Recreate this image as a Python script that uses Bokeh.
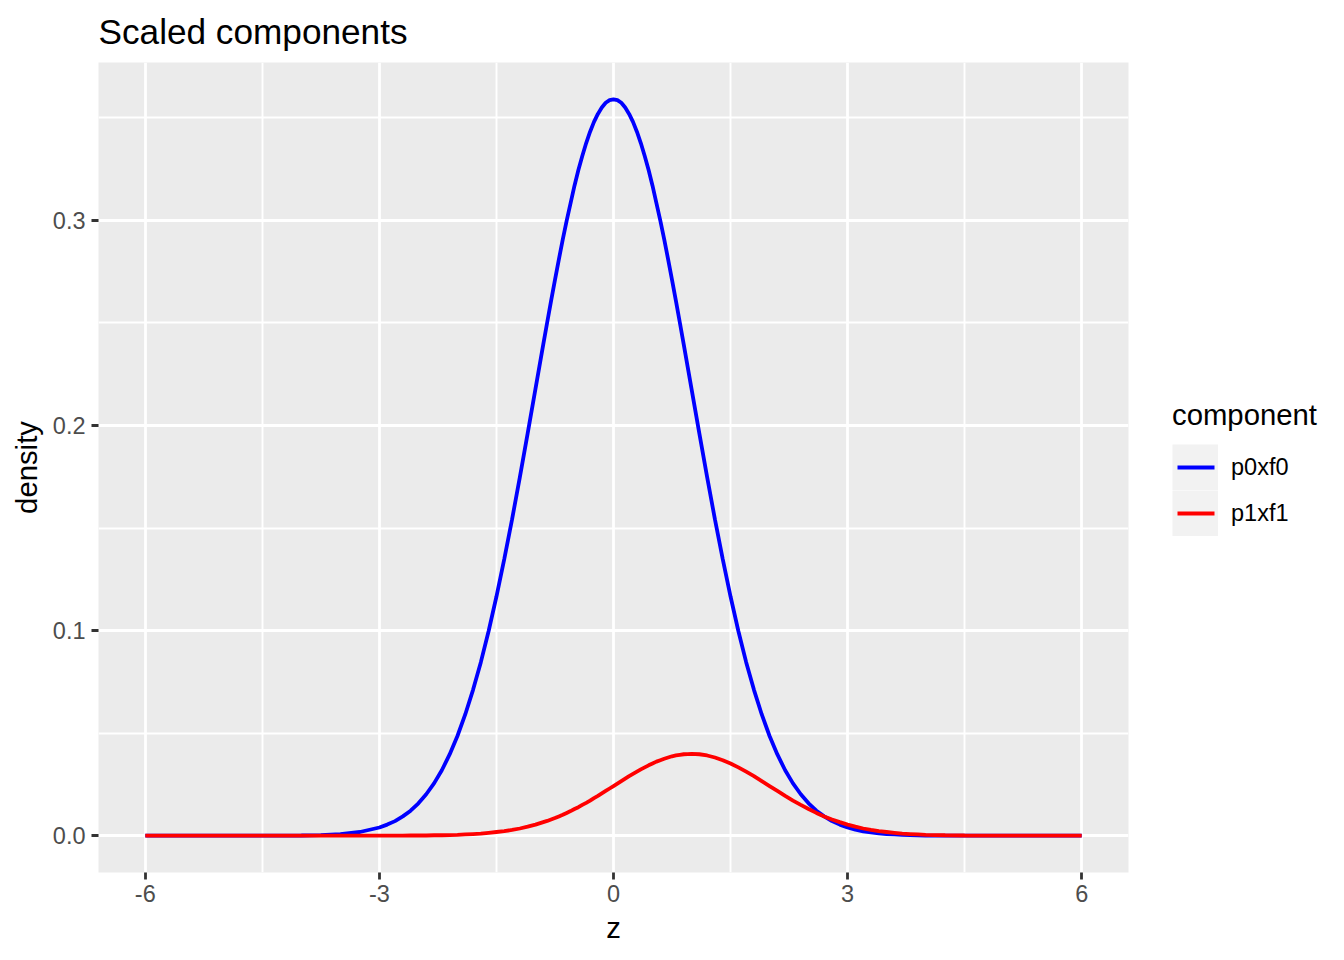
from bokeh.plotting import figure
from bokeh.models import Range1d, FixedTicker, Legend, LegendItem, ColumnDataSource
from bokeh.embed import file_html
from bokeh.resources import INLINE

# ---- data ----
z = [-6.0, -5.5, -5.0, -4.5, -4.0, -3.75, -3.5, -3.25,
     -3.0, -2.9, -2.8, -2.7, -2.6, -2.5, -2.4, -2.3, -2.2, -2.1,
     -2.0, -1.9, -1.8, -1.7, -1.6, -1.5, -1.4, -1.3, -1.2, -1.1,
     -1.00, -0.95, -0.90, -0.85, -0.80, -0.75, -0.70, -0.65, -0.60, -0.55,
     -0.50, -0.45, -0.40, -0.35, -0.30, -0.25, -0.20, -0.15, -0.10, -0.05,
     0.00, 0.05, 0.10, 0.15, 0.20, 0.25, 0.30, 0.35, 0.40, 0.45,
     0.50, 0.55, 0.60, 0.65, 0.70, 0.75, 0.80, 0.85, 0.90, 0.95,
     1.0, 1.1, 1.2, 1.3, 1.4, 1.5, 1.6, 1.7, 1.8, 1.9,
     2.0, 2.1, 2.2, 2.3, 2.4, 2.5, 2.6, 2.7, 2.8, 2.9,
     3.0, 3.1, 3.2, 3.3, 3.4, 3.5, 3.6, 3.7, 3.8, 3.9,
     4.0, 4.25, 4.5, 5.0, 5.5, 6.0]

p0xf0 = [0.0, 0.0, 0.0, 0.0, 0.0001, 0.0003, 0.0008, 0.0018,
         0.0040, 0.0054, 0.0071, 0.0094, 0.0122, 0.0158, 0.0202, 0.0255, 0.0319, 0.0396,
         0.0486, 0.0591, 0.0711, 0.0846, 0.0998, 0.1166, 0.1348, 0.1542, 0.1748, 0.1961,
         0.2178, 0.2287, 0.2395, 0.2502, 0.2607, 0.2710, 0.2810, 0.2907, 0.2999, 0.3084,
         0.3169, 0.3245, 0.3314, 0.3377, 0.3432, 0.3480, 0.3519, 0.3550, 0.3573, 0.3586,
         0.3590, 0.3586, 0.3573, 0.3550, 0.3519, 0.3480, 0.3432, 0.3377, 0.3314, 0.3245,
         0.3169, 0.3084, 0.2999, 0.2907, 0.2810, 0.2710, 0.2607, 0.2502, 0.2395, 0.2287,
         0.2178, 0.1961, 0.1748, 0.1542, 0.1348, 0.1166, 0.0998, 0.0846, 0.0711, 0.0591,
         0.0486, 0.0396, 0.0319, 0.0255, 0.0202, 0.0158, 0.0122, 0.0094, 0.0071, 0.0054,
         0.0040, 0.0029, 0.0021, 0.0016, 0.0011, 0.0008, 0.0006, 0.0004, 0.0003, 0.0002,
         0.0001, 0.0, 0.0, 0.0, 0.0, 0.0]

p1xf1 = [0.0, 0.0, 0.0, 0.0, 0.0, 0.0, 0.0, 0.0,
         0.0, 0.0, 0.0, 0.0, 0.0001, 0.0001, 0.0001, 0.0002, 0.0002, 0.0003,
         0.0004, 0.0006, 0.0008, 0.0010, 0.0014, 0.0018, 0.0022, 0.0028, 0.0035, 0.0044,
         0.0054, 0.0060, 0.0066, 0.0072, 0.0079, 0.0086, 0.0094, 0.0102, 0.0111, 0.0120,
         0.0130, 0.0139, 0.0150, 0.0160, 0.0171, 0.0183, 0.0194, 0.0206, 0.0218, 0.0230,
         0.0242, 0.0254, 0.0266, 0.0278, 0.0290, 0.0301, 0.0312, 0.0323, 0.0333, 0.0343,
         0.0352, 0.0361, 0.0368, 0.0375, 0.0381, 0.0387, 0.0391, 0.0394, 0.0397, 0.0398,
         0.0399, 0.0397, 0.0391, 0.0381, 0.0368, 0.0352, 0.0333, 0.0312, 0.0290, 0.0266,
         0.0242, 0.0218, 0.0194, 0.0171, 0.0150, 0.0130, 0.0111, 0.0094, 0.0079, 0.0066,
         0.0054, 0.0044, 0.0035, 0.0028, 0.0022, 0.0018, 0.0014, 0.0010, 0.0008, 0.0006,
         0.0004, 0.0002, 0.0001, 0.0, 0.0, 0.0]

components = ["p0xf0", "p1xf1"]
colors = ["blue", "red"]

x_ticks = [-6, -3, 0, 3, 6]
x_tick_labels = ["-6", "-3", "0", "3", "6"]
x_minor = [-4.5, -1.5, 1.5, 4.5]
y_ticks = [0.0, 0.1, 0.2, 0.3]
y_tick_labels = ["0.0", "0.1", "0.2", "0.3"]
y_minor = [0.05, 0.15, 0.25, 0.35]

FONT = "Liberation Sans"

src = ColumnDataSource(dict(z=z, p0xf0=p0xf0, p1xf1=p1xf1))

ymax = max(p0xf0 + p1xf1)
ymin = min(p0xf0 + p1xf1)
ypad = (ymax - ymin) * 0.05
xpad = (max(z) - min(z)) * 0.05

p = figure(
    frame_width=1030, frame_height=810,
    min_border_left=98, min_border_right=212, min_border_top=62, min_border_bottom=84,
    x_range=Range1d(min(z) - xpad, max(z) + xpad),
    y_range=Range1d(ymin - ypad, ymax + ypad),
    output_backend="svg", toolbar_location=None,
    title="Scaled components",
)

p.background_fill_color = "#EBEBEB"
p.border_fill_color = "white"
p.outline_line_color = None

p.title.text_font = FONT
p.title.text_font_size = "35.2px"
p.title.text_font_style = "normal"
p.title.text_color = "black"
p.title.align = "left"
p.title.vertical_align = "top"
p.title.standoff = 19

p.xaxis.ticker = FixedTicker(ticks=x_ticks, minor_ticks=x_minor)
p.yaxis.ticker = FixedTicker(ticks=y_ticks, minor_ticks=y_minor)
p.xaxis.major_label_overrides = {t: l for t, l in zip(x_ticks, x_tick_labels)}
p.yaxis.major_label_overrides = {t: l for t, l in zip(y_ticks, y_tick_labels)}
p.xaxis.axis_label = "z"
p.yaxis.axis_label = "density"

for ax in (p.xaxis, p.yaxis):
    ax.axis_line_color = None
    ax.minor_tick_line_color = None
    ax.major_tick_line_color = "#333333"
    ax.major_tick_line_width = 2.8
    ax.major_tick_in = 0
    ax.major_tick_out = 7
    ax.major_label_text_font = FONT
    ax.major_label_text_font_size = "23.5px"
    ax.major_label_text_color = "#4D4D4D"
    ax.axis_label_text_font = FONT
    ax.axis_label_text_font_size = "29.3px"
    ax.axis_label_text_font_style = "normal"
    ax.axis_label_text_color = "black"
p.xaxis.major_label_standoff = 5
p.yaxis.major_label_standoff = 6
p.xaxis.axis_label_standoff = 6
p.yaxis.axis_label_standoff = 7

for g in (p.xgrid, p.ygrid):
    g.grid_line_color = "white"
    g.grid_line_width = 2.8
    g.minor_grid_line_color = "white"
    g.minor_grid_line_width = 1.9

renderers = []
for name, col in zip(components, colors):
    r = p.line("z", name, source=src, line_color=col, line_width=3.8)
    renderers.append(r)

# legend key glyphs (hidden helper renderers): grey key background + inset coloured line
key_bg = p.line("z", "p0xf0", source=src, line_color="#F2F2F2", line_width=46, visible=False)
key_lines = [p.line("z", name, source=src, line_color=col, line_width=3.8,
                    line_dash="0 5 37 30", visible=False)
             for name, col in zip(components, colors)]

legend = Legend(
    items=[LegendItem(label=c, renderers=[key_bg, kl]) for c, kl in zip(components, key_lines)],
    title="component",
    location=(44, 336),
    orientation="vertical",
    padding=0, margin=0, spacing=0,
    glyph_width=46, glyph_height=46, label_height=46,
    label_standoff=13,
    label_text_font=FONT, label_text_font_size="23.5px", label_text_color="black",
    title_text_font=FONT, title_text_font_size="29.3px", title_text_font_style="normal",
    title_text_color="black", title_standoff=12,
    background_fill_alpha=0.0,
    inactive_fill_alpha=0.0,
    border_line_color=None,
)
p.add_layout(legend, "right")

open("out.html", "w").write(file_html(p, INLINE))
